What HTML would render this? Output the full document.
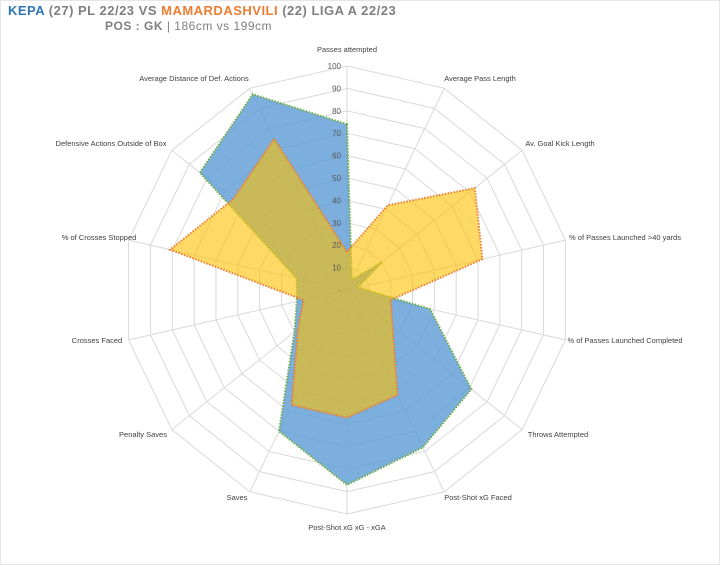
<!DOCTYPE html>
<html><head><meta charset="utf-8"><style>
body{margin:0;background:#fff;width:720px;height:565px;overflow:hidden;font-family:"Liberation Sans",sans-serif}
</style></head><body>
<svg id="s" width="720" height="565" xmlns="http://www.w3.org/2000/svg" style="position:absolute;left:0;top:0">
<rect x="0.5" y="0.5" width="719" height="564" fill="#fff" stroke="#e6e6e6"/>
<text x="8" y="15" font-size="13" font-weight="bold" fill="#7f7f7f" font-family="Liberation Sans, sans-serif" letter-spacing="0.5"><tspan fill="#2e75b6">KEPA</tspan> (27) PL 22/23 VS <tspan fill="#ed7d31">MAMARDASHVILI</tspan> (22) LIGA A 22/23</text>
<text x="105" y="30" font-size="12" fill="#7f7f7f" font-family="Liberation Sans, sans-serif" letter-spacing="0.5"><tspan font-weight="bold">POS : GK</tspan> | 186cm vs 199cm</text>
<g id="g"></g>
</svg>
<script>
var cx=347,cy=290,R=224,N=14,ns="http://www.w3.org/2000/svg",g=document.getElementById('g');
function pt(k,v){var a=k*2*Math.PI/N;return [cx+Math.sin(a)*R*v/100,cy-Math.cos(a)*R*v/100];}
function el(n,at,t){var e=document.createElementNS(ns,n);for(var k in at)e.setAttribute(k,at[k]);if(t)e.textContent=t;g.appendChild(e);return e;}
for(var l=1;l<=10;l++){var p=[];for(var k=0;k<N;k++)p.push(pt(k,l*10).join(','));el('polygon',{points:p.join(' '),fill:'none',stroke:'#d9d9d9','stroke-width':1});}
for(var k=0;k<N;k++){var q=pt(k,100);el('line',{x1:cx,y1:cy,x2:q[0],y2:q[1],stroke:'#d9d9d9','stroke-width':1});}
var B=[74,5,20,5,38,71,78,87,70,30,23,23,84,97],O=[17,42,73,62,20,26,52,57,57,28,20,81,65,75];
function poly(d,f,op,s){var p=[];for(var k=0;k<N;k++)p.push(pt(k,d[k]).join(','));el('polygon',{points:p.join(' '),fill:f,'fill-opacity':op,stroke:s,'stroke-width':2,'stroke-dasharray':'1.5,1.5'});}
poly(B,'#5b9bd5',0.8,'#70ad47');
poly(O,'#ffc000',0.6,'#ed7d31');
for(var l=0;l<=10;l++)el('text',{x:cx-6,y:cy-l*R/10+3,'font-size':8,fill:'#595959','text-anchor':'end'},l?String(l*10):'·');
var L=[["Passes attempted",347,52],["Average Pass Length",480,81],["Av. Goal Kick Length",560,146],["% of Passes Launched >40 yards",625,240],["% of Passes Launched Completed",625,343],["Throws Attempted",558,437],["Post-Shot xG Faced",478,500],["Post-Shot xG xG - xGA",347,530],["Saves",237,500],["Penalty Saves",143,437],["Crosses Faced",97,343],["% of Crosses Stopped",99,240],["Defensive Actions  Outside of Box",111,146],["Average Distance of Def. Actions",194,81]];
L.forEach(function(a){el('text',{x:a[1],y:a[2],'font-size':7.5,fill:'#404040','text-anchor':'middle'},a[0]);});
</script>
</body></html>
